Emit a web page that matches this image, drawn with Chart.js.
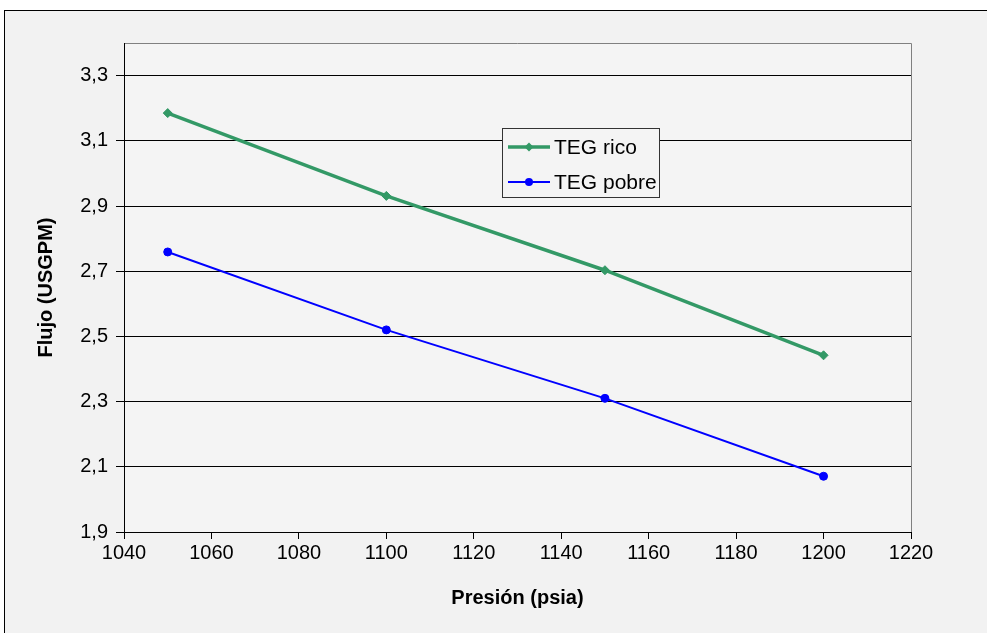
<!DOCTYPE html>
<html>
<head>
<meta charset="utf-8">
<script src="https://cdn.jsdelivr.net/npm/chart.js@4/dist/chart.umd.min.js"></script>
<style>
  html, body { margin: 0; padding: 0; background: #fff; }
  #wrap { position: relative; width: 987px; height: 633px; }
</style>
</head>
<body>
<div id="wrap"><canvas id="flujoChart" width="987" height="633"></canvas></div>
<script>
// data
const presion = [1050, 1100, 1150, 1200];
const tegRico = [3.185, 2.931, 2.703, 2.442];
const tegPobre = [2.759, 2.52, 2.31, 2.071];
const yTicks = [1.9, 2.1, 2.3, 2.5, 2.7, 2.9, 3.1, 3.3];
const seriesNames = ['TEG rico', 'TEG pobre'];

const FONT = "'Liberation Sans', Arial, sans-serif";

// background, outer frame and plot border
const framePlugin = {
    id: 'frame',
    beforeDraw(chart) {
        const ctx = chart.ctx;
        const a = chart.chartArea;
        ctx.save();
        ctx.fillStyle = '#ffffff';
        ctx.fillRect(0, 0, chart.width, chart.height);
        ctx.fillStyle = '#f2f2f2';
        ctx.fillRect(4, 10, chart.width, chart.height);
        ctx.strokeStyle = '#000';
        ctx.lineWidth = 1;
        ctx.strokeRect(4.5, 10.5, chart.width + 10, chart.height + 10);
        ctx.fillStyle = '#f4f4f4';
        ctx.fillRect(a.left, a.top, a.right - a.left, a.bottom - a.top);
        ctx.strokeStyle = '#808080';
        ctx.beginPath();
        ctx.moveTo(a.left, a.top + 0.5);
        ctx.lineTo(a.right + 0.5, a.top + 0.5);
        ctx.lineTo(a.right + 0.5, a.bottom);
        ctx.stroke();
        ctx.restore();
    }
};

// legend box inside the plot
const legendBox = {
    id: 'legendBox',
    afterDraw(chart) {
        const ctx = chart.ctx;
        const x = 502, y = 128, w = 157, h = 69;
        ctx.save();
        ctx.fillStyle = '#f4f4f4';
        ctx.fillRect(x, y, w, h);
        ctx.strokeStyle = '#333';
        ctx.lineWidth = 1;
        ctx.strokeRect(x + 0.5, y + 0.5, w, h);
        chart.data.datasets.forEach((ds, i) => {
            const cy = y + 19 + i * 35;
            ctx.strokeStyle = ds.borderColor;
            ctx.lineWidth = ds.borderWidth;
            ctx.beginPath();
            ctx.moveTo(508, cy);
            ctx.lineTo(550, cy);
            ctx.stroke();
            ctx.fillStyle = ds.pointBackgroundColor;
            ctx.beginPath();
            if (ds.pointStyle === 'rectRot') {
                ctx.moveTo(529, cy - 4.5);
                ctx.lineTo(533.5, cy);
                ctx.lineTo(529, cy + 4.5);
                ctx.lineTo(524.5, cy);
            } else {
                ctx.arc(529, cy, 4, 0, Math.PI * 2);
            }
            ctx.fill();
            ctx.fillStyle = '#000';
            ctx.font = '21px ' + FONT;
            ctx.textBaseline = 'middle';
            ctx.textAlign = 'left';
            ctx.fillText(ds.label, 554, cy + 1);
        });
        ctx.restore();
    }
};

const ctx = document.getElementById('flujoChart').getContext('2d');
const flujoChart = new Chart(ctx, {
    type: 'line',
    data: {
        datasets: [{
            label: seriesNames[0],
            data: presion.map((p, i) => ({ x: p, y: tegRico[i] })),
            borderColor: '#339966',
            backgroundColor: '#339966',
            pointBackgroundColor: '#339966',
            pointBorderColor: '#339966',
            borderWidth: 3.5,
            pointStyle: 'rectRot',
            pointRadius: 4.5,
            pointBorderWidth: 1,
            tension: 0
        }, {
            label: seriesNames[1],
            data: presion.map((p, i) => ({ x: p, y: tegPobre[i] })),
            borderColor: '#0000ff',
            backgroundColor: '#0000ff',
            pointBackgroundColor: '#0000ff',
            pointBorderColor: '#0000ff',
            borderWidth: 2,
            pointStyle: 'circle',
            pointRadius: 4,
            pointBorderWidth: 1,
            tension: 0
        }]
    },
    options: {
        responsive: false,
        animation: false,
        layout: { padding: { left: 4, top: 43, right: 76, bottom: 11 } },
        plugins: {
            legend: { display: false },
            tooltip: { enabled: false }
        },
        scales: {
            x: {
                type: 'linear',
                min: 1040,
                max: 1220,
                ticks: {
                    stepSize: 20,
                    color: '#000',
                    padding: 2,
                    font: { family: FONT, size: 20 },
                    maxRotation: 0,
                    callback: v => String(v)
                },
                grid: {
                    drawOnChartArea: false,
                    drawTicks: true,
                    tickLength: 7,
                    color: '#000'
                },
                border: { color: '#000', width: 1 },
                title: {
                    display: true,
                    text: 'Presión (psia)',
                    color: '#000',
                    font: { family: FONT, size: 20, weight: 'bold' },
                    padding: { top: 0, bottom: 12 }
                },
                afterFit(scale) { scale.height = 90; }
            },
            y: {
                type: 'linear',
                min: 1.9,
                max: 3.4,
                afterBuildTicks(scale) {
                    scale.ticks = yTicks.map(v => ({ value: v }));
                },
                ticks: {
                    color: '#000',
                    padding: 8,
                    font: { family: FONT, size: 20 },
                    callback: v => v.toFixed(1).replace('.', ',')
                },
                grid: {
                    color: '#000',
                    tickLength: 8,
                    lineWidth: 1
                },
                border: { color: '#000', width: 1 },
                title: {
                    display: true,
                    text: 'Flujo (USGPM)',
                    color: '#000',
                    font: { family: FONT, size: 20, weight: 'bold' },
                    padding: { top: 30, bottom: 0 }
                },
                afterFit(scale) { scale.width = 120; }
            }
        }
    },
    plugins: [framePlugin, legendBox]
});
</script>
</body>
</html>
